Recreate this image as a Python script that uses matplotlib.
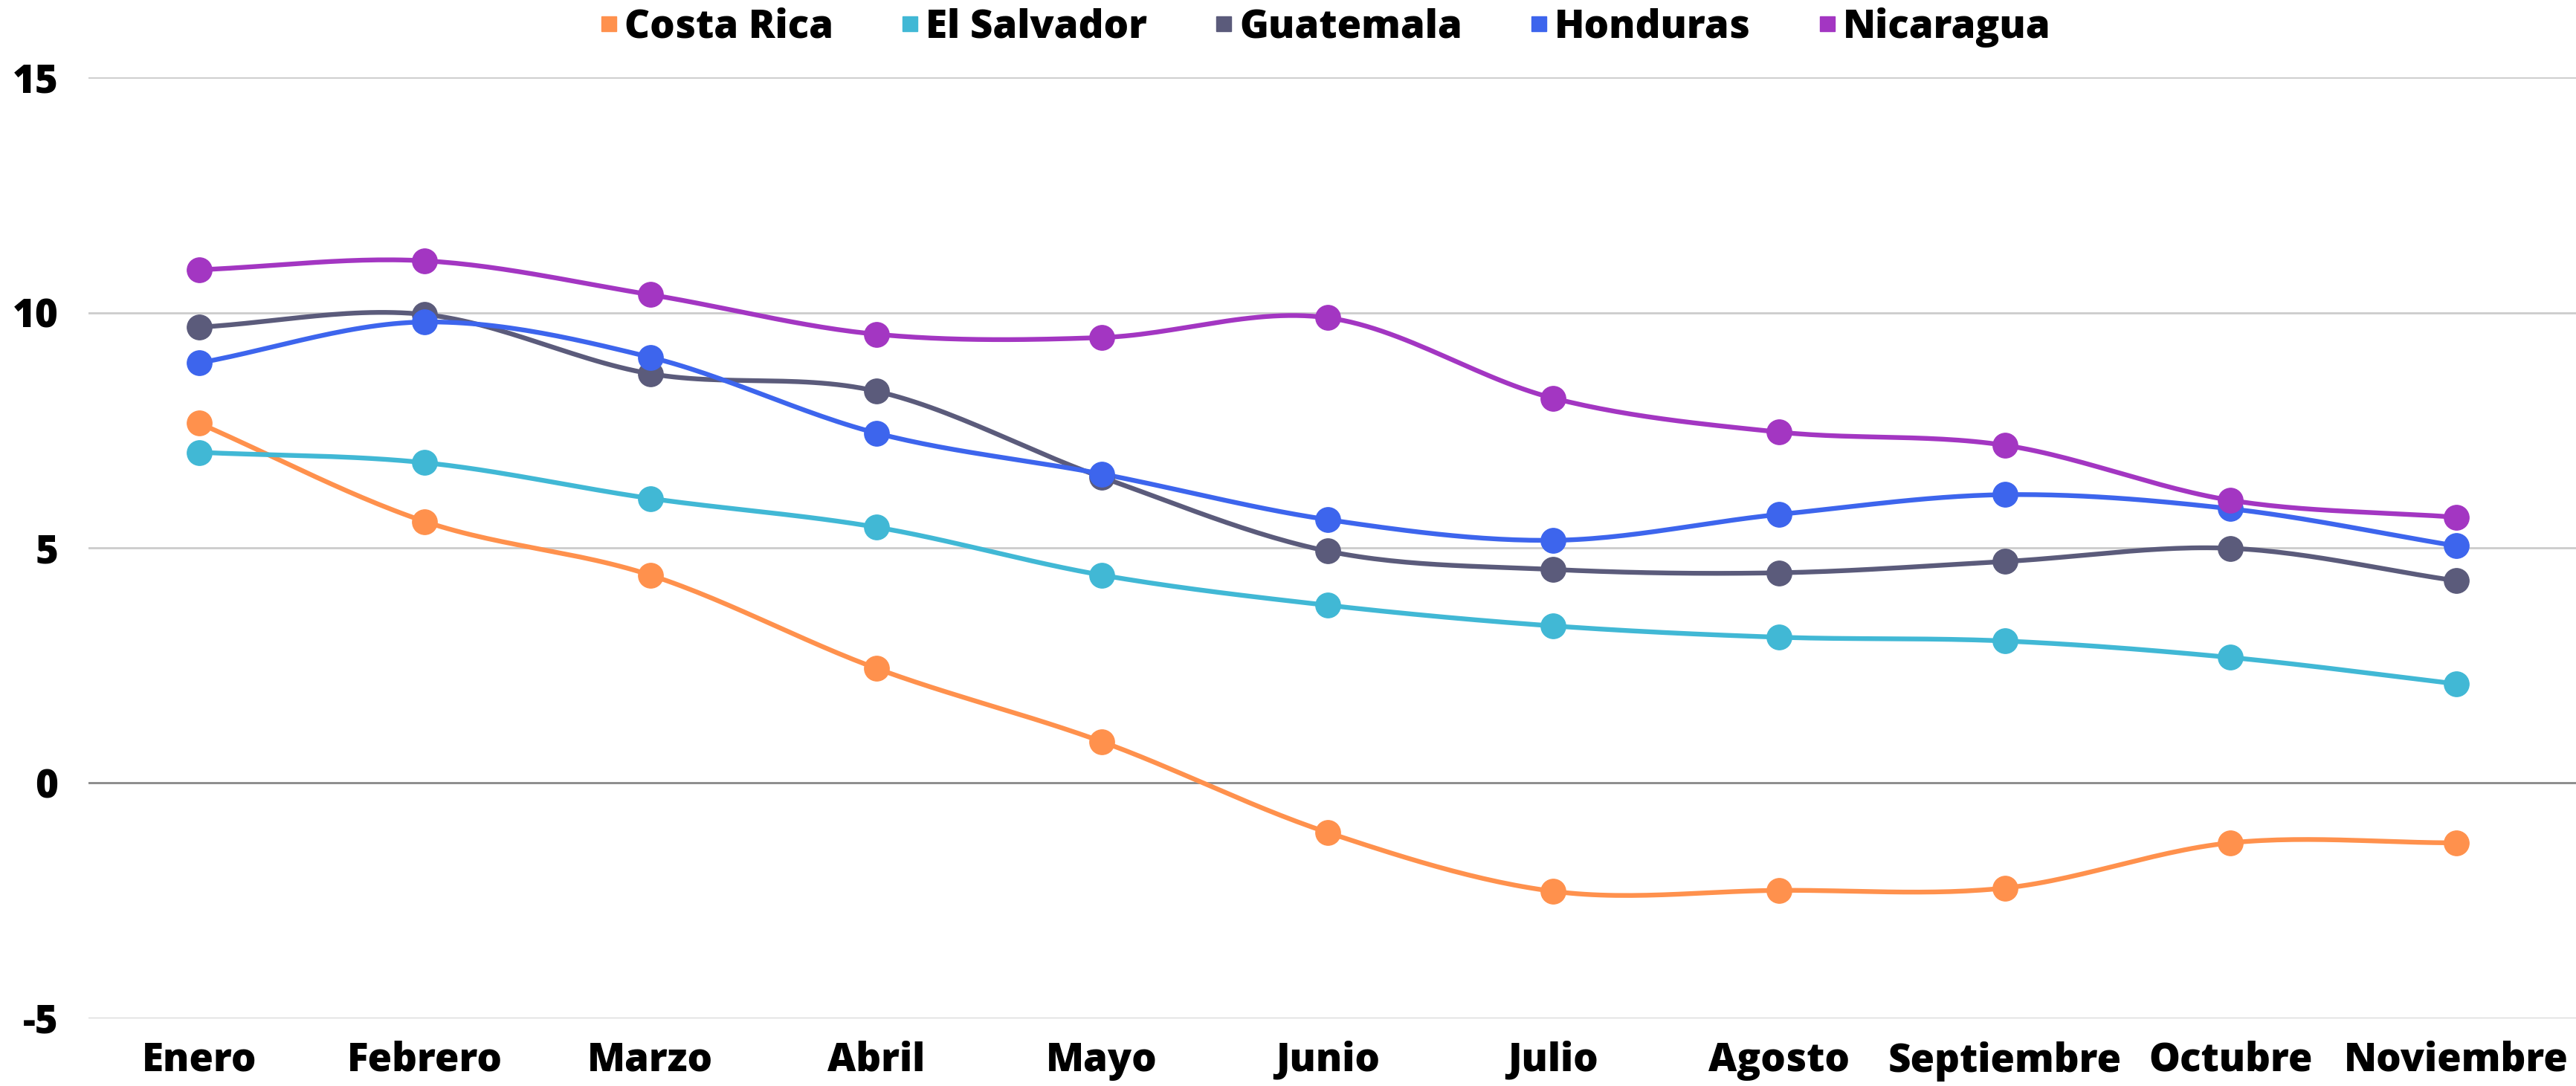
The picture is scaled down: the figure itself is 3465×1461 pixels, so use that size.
import numpy as np
import matplotlib
matplotlib.use('Agg')
from matplotlib import pyplot as plt
from matplotlib.lines import Line2D

months = ['Enero', 'Febrero', 'Marzo', 'Abril', 'Mayo', 'Junio', 'Julio',
          'Agosto', 'Septiembre', 'Octubre', 'Noviembre']
costa_rica = [7.65, 5.56, 4.42, 2.44, 0.88, -1.05, -2.30, -2.28, -2.23, -1.27, -1.27]
el_salvador = [7.03, 6.81, 6.05, 5.44, 4.42, 3.78, 3.34, 3.10, 3.02, 2.67, 2.11]
guatemala = [9.69, 9.96, 8.70, 8.33, 6.50, 4.93, 4.54, 4.47, 4.71, 4.99, 4.30]
honduras = [8.93, 9.80, 9.05, 7.44, 6.57, 5.60, 5.16, 5.71, 6.13, 5.83, 5.04]
nicaragua = [10.91, 11.10, 10.38, 9.54, 9.47, 9.89, 8.18, 7.46, 7.18, 6.01, 5.65]

series = [('Costa Rica', costa_rica, '#FF914D'),
          ('El Salvador', el_salvador, '#41B8D5'),
          ('Guatemala', guatemala, '#5B5B7B'),
          ('Honduras', honduras, '#3D65ED'),
          ('Nicaragua', nicaragua, '#A336C2')]

plt.rcParams['font.family'] = ['Open Sans', 'DejaVu Sans']
plt.rcParams['font.weight'] = 800
plt.rcParams['axes.unicode_minus'] = False


def smooth(x, y, n=30):
    # catmull-rom curve through the points, only for drawing the line
    x = np.asarray(x, float)
    y = np.asarray(y, float)
    px = np.concatenate([[2 * x[0] - x[1]], x, [2 * x[-1] - x[-2]]])
    py = np.concatenate([[2 * y[0] - y[1]], y, [2 * y[-1] - y[-2]]])
    xs, ys = [], []
    t = np.linspace(0, 1, n)
    for i in range(1, len(px) - 2):
        for p, out in ((px, xs), (py, ys)):
            p0, p1, p2, p3 = p[i - 1], p[i], p[i + 1], p[i + 2]
            out.append(0.5 * (2 * p1 + (-p0 + p2) * t
                              + (2 * p0 - 5 * p1 + 4 * p2 - p3) * t ** 2
                              + (-p0 + 3 * p1 - 3 * p2 + p3) * t ** 3))
    return np.concatenate(xs), np.concatenate(ys)


fig = plt.figure(figsize=(34.65, 14.61), dpi=100)
ax = fig.add_axes([0.0343, 0.0623, 0.9657, 0.8665])

x = np.arange(len(months))
for name, vals, col in series:
    sx, sy = smooth(x, vals)
    ax.plot(sx, sy, color=col, linewidth=4.6, solid_capstyle='round', zorder=3)
    ax.plot(x, vals, 'o', color=col, markersize=24, zorder=4)

ax.set_xlim(-0.49, 10.53)
ax.set_ylim(-5, 15)
ax.set_yticks([-5, 0, 5, 10, 15])
ax.set_xticks(x)
ax.set_xticklabels(months)
for y in [-5, 5, 10, 15]:
    ax.axhline(y, color='#CCCCCC', linewidth=2, zorder=1)
ax.axhline(0, color='#888888', linewidth=2, zorder=1)
for s in ax.spines.values():
    s.set_visible(False)
ax.tick_params(axis='both', length=0, labelsize=38)
ax.tick_params(axis='y', pad=29)
ax.tick_params(axis='x', pad=22)

handles = [Line2D([], [], linestyle='none', marker='s', markersize=14,
                  color=col, label=name) for name, vals, col in series]
fig.legend(handles=handles, loc='center', bbox_to_anchor=(0.514, 0.975), ncol=5,
           frameon=False, fontsize=38, handletextpad=0.1, columnspacing=1.65,
           handlelength=0.6)

fig.savefig('out.png', dpi=100)
